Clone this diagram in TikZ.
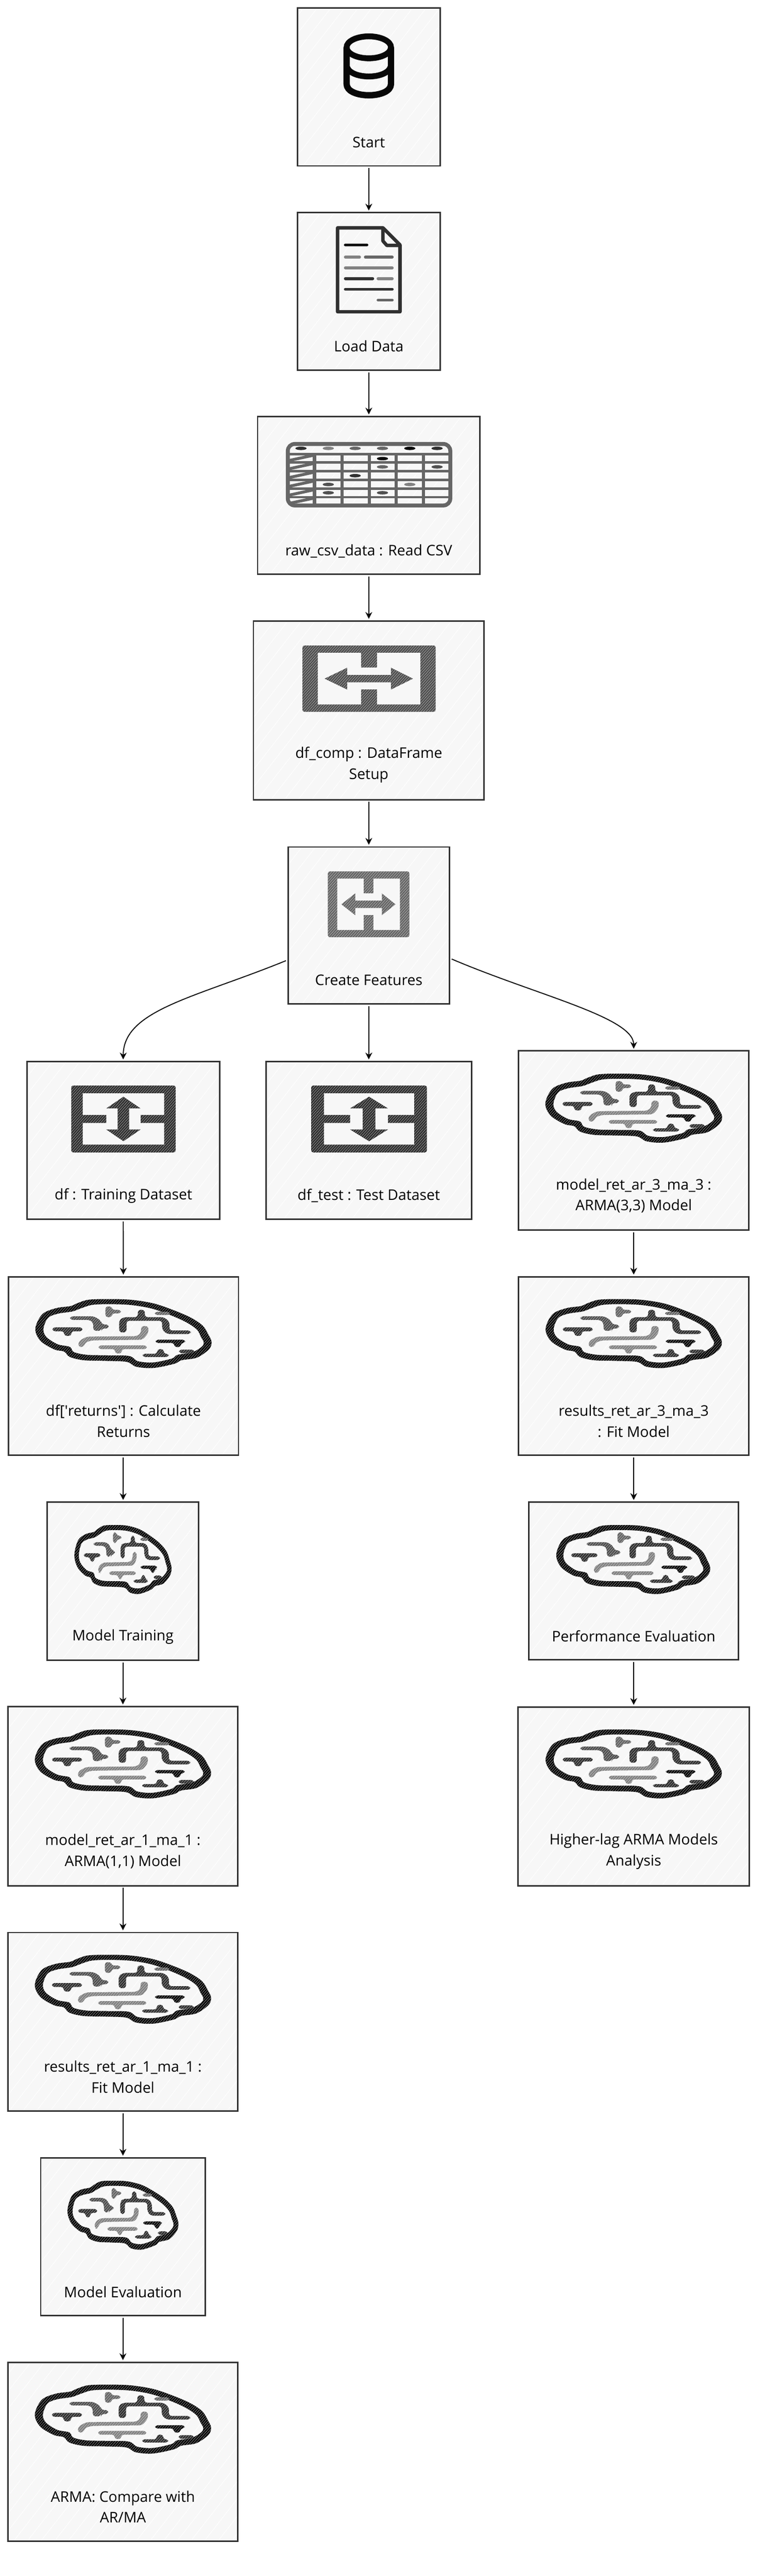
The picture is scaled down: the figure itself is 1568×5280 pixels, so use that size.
\documentclass[tikz,border=0pt]{standalone}
\usepackage{fontspec}
\setmainfont{Open Sans}
\usetikzlibrary{arrows.meta,patterns.meta}

\definecolor{boxcol}{HTML}{F7F7F7}
\definecolor{edgecol}{HTML}{333333}
\definecolor{inkA}{HTML}{080808}
\definecolor{inkB}{HTML}{303030}
\definecolor{inkC}{HTML}{505050}
\definecolor{inkD}{HTML}{666666}
\definecolor{inkE}{HTML}{828282}

\tikzset{
  x=0.5pt,y=-0.5pt,
  box/.style={draw=edgecol,line width=1.5pt,inner sep=0pt,preaction={fill=boxcol},
    preaction={pattern={Lines[angle=52,distance=11pt,line width=0.5pt]},pattern color=white}},
  lbl/.style={font=\fontsize{15}{21.5}\selectfont,align=center,text=black,inner sep=0pt},
  flow/.style={draw=inkA,line width=1pt,-{Stealth[length=7pt,width=7pt]},shorten >=1.5pt,shorten <=1.5pt},
  ink/.style={fill=#1,postaction={pattern={Lines[angle=48,distance=2pt,line width=0.15pt]},pattern color=white}},
  bar/.style={draw=#1,line width=3pt,line cap=round},
  pics/brain/.style={code={
    \begin{scope}[shift={(-716,-216)}]
      \path[ink=inkA,even odd rule]
        plot[smooth cycle,tension=0.55] coordinates{(172,185)(215,95)(300,58)(390,45)(430,28)(500,6)(620,2)(760,6)(900,28)(1020,68)(1130,115)(1205,165)(1240,220)(1260,265)(1245,310)(1170,362)(1075,378)(1030,400)(900,426)(795,418)(735,388)(600,382)(470,378)(385,358)(350,325)(290,312)(205,260)}
        plot[smooth cycle,tension=0.55] coordinates{(222,185)(250,118)(310,92)(400,78)(450,60)(520,38)(620,33)(760,38)(890,60)(1005,100)(1105,145)(1170,190)(1195,235)(1212,268)(1200,295)(1140,330)(1050,345)(1015,368)(900,392)(805,384)(750,352)(600,348)(490,345)(410,328)(385,296)(310,280)(240,235)};
      \path[ink=inkB,rounded corners=2.5pt] (278,176)--(463,176)--(463,200)--(395,200)--(395,228)--(350,228)--(350,200)--(278,200)--cycle;
      \path[ink=inkD,rounded corners=2.5pt] (605,47)--(645,47)--(645,68)--(700,68)--(700,90)--(645,90)--(645,113)--(605,113)--cycle;
      \path[ink=inkC,rounded corners=3pt] (387,108)--(535,108)--(578,135)--(580,158)--(625,158)--(625,183)--(580,183)--(580,197)--(530,197)--(530,148)--(510,130)--(387,130)--cycle;
      \path[ink=inkB,rounded corners=3pt] (690,207)--(690,130)--(720,113)--(805,113)--(805,68)--(848,68)--(848,113)--(965,113)--(1000,140)--(1000,195)--(1132,195)--(1132,217)--(985,217)--(955,190)--(955,135)--(735,135)--(735,207)--cycle;
      \path[ink=inkE,rounded corners=3pt] (870,168)--(870,210)--(835,252)--(520,256)--(478,270)--(472,298)--(437,296)--(440,260)--(490,233)--(800,230)--(825,210)--(825,168)--cycle;
      \path[ink=inkE,rounded corners=2.5pt] (563,287)--(860,287)--(860,310)--(705,310)--(705,337)--(665,337)--(665,310)--(563,310)--cycle;
      \path[ink=inkA,rounded corners=2.5pt] (915,252)--(1097,252)--(1097,272)--(1070,272)--(1070,297)--(1030,297)--(1030,272)--(915,272)--cycle;
      \path[ink=inkB,rounded corners=2.5pt] (835,338)--(925,338)--(925,310)--(965,310)--(965,338)--(995,338)--(995,358)--(835,358)--cycle;
      \path[ink=inkB,rounded corners=2.5pt] (1060,313)--(1153,313)--(1153,335)--(1060,335)--cycle;
      \path[ink=inkD,rounded corners=2.5pt] (910,80)--(1002,80)--(1002,100)--(910,100)--cycle;
    \end{scope}
  }},
  pics/swaph/.style={code={
    \path[ink=#1,even odd rule,rounded corners=2pt] (0,0)--(1,0)--(1,1)--(0,1)--cycle;
    \path[fill=boxcol,even odd rule] (0.115,0.11)--(0.44,0.11)--(0.44,0.333)--(0.56,0.333)--(0.56,0.11)--(0.885,0.11)--(0.885,0.89)--(0.56,0.89)--(0.56,0.663)--(0.44,0.663)--(0.44,0.89)--(0.115,0.89)--cycle;
    \path[ink=#1] (0.166,0.5)--(0.336,0.335)--(0.336,0.445)--(0.664,0.445)--(0.664,0.335)--(0.83,0.5)--(0.664,0.665)--(0.664,0.555)--(0.336,0.555)--(0.336,0.665)--cycle;
  }},
  pics/swapv/.style={code={
    \path[ink=#1,even odd rule,rounded corners=2pt] (0,0)--(1,0)--(1,1)--(0,1)--cycle;
    \path[fill=boxcol,even odd rule] (0.11,0.117)--(0.89,0.117)--(0.89,0.44)--(0.664,0.44)--(0.664,0.56)--(0.89,0.56)--(0.89,0.883)--(0.11,0.883)--(0.11,0.56)--(0.336,0.56)--(0.336,0.44)--(0.11,0.44)--cycle;
    \path[ink=#1] (0.5,0.167)--(0.664,0.342)--(0.555,0.342)--(0.555,0.658)--(0.664,0.658)--(0.5,0.833)--(0.336,0.658)--(0.445,0.658)--(0.445,0.342)--(0.336,0.342)--cycle;
  }},
}

\begin{document}
\begin{tikzpicture}
  \useasboundingbox (0,0) rectangle (1568,5280);

  \node[box,minimum width=146pt,minimum height=162pt] (start) at (756,178) {};
  \node[box,minimum width=146pt,minimum height=161.5pt] (load) at (756,597.5) {};
  \node[box,minimum width=228pt,minimum height=161.5pt] (raw) at (756,1015.5) {};
  \node[box,minimum width=236.5pt,minimum height=183pt] (comp) at (756,1456) {};
  \node[box,minimum width=165.5pt,minimum height=161pt] (create) at (756,1897) {};
  \node[box,minimum width=197.5pt,minimum height=161.5pt] (train) at (252.5,2337.5) {};
  \node[box,minimum width=211pt,minimum height=161.5pt] (test) at (756,2337.5) {};
  \node[box,minimum width=236pt,minimum height=183.5pt] (modelb) at (1299,2337.5) {};
  \node[box,minimum width=236pt,minimum height=183pt] (returns) at (253,2800) {};
  \node[box,minimum width=236pt,minimum height=183pt] (resultsb) at (1299,2800) {};
  \node[box,minimum width=155.5pt,minimum height=162pt] (training) at (252,3241) {};
  \node[box,minimum width=215pt,minimum height=161.5pt] (perf) at (1299,3240.5) {};
  \node[box,minimum width=235.5pt,minimum height=183.5pt] (modela) at (252,3681.5) {};
  \node[box,minimum width=237pt,minimum height=183pt] (higher) at (1299,3682) {};
  \node[box,minimum width=235.5pt,minimum height=183pt] (resultsa) at (252,4144) {};
  \node[box,minimum width=168.5pt,minimum height=161.5pt] (eval) at (252,4584.5) {};
  \node[box,minimum width=235.5pt,minimum height=183.5pt] (arma) at (252,5025.5) {};

  \draw[flow] (start)--(load);
  \draw[flow] (load)--(raw);
  \draw[flow] (raw)--(comp);
  \draw[flow] (comp)--(create);
  \draw[flow] (create.203) .. controls (400,2045) and (253,2070) .. (train.north);
  \draw[flow] (create)--(test);
  \draw[flow] (create.338) .. controls (1100,2040) and (1299,2085) .. (modelb.north);
  \draw[flow] (train)--(returns);
  \draw[flow] (returns)--(training);
  \draw[flow] (training)--(modela);
  \draw[flow] (modela)--(resultsa);
  \draw[flow] (resultsa)--(eval);
  \draw[flow] (eval)--(arma);
  \draw[flow] (modelb)--(resultsb);
  \draw[flow] (resultsb)--(perf);
  \draw[flow] (perf)--(higher);

  \draw[inkA,line width=6pt] (756,97) ellipse [x radius=45.5,y radius=22.5];
  \draw[inkA,line width=6.5pt,line join=round] (710.5,97)--(710.5,172) .. controls (710.5,203) and (801.5,203) .. (801.5,172)--(801.5,97);
  \draw[inkA,line width=6pt] (710.5,132) .. controls (710.5,165) and (801.5,165) .. (801.5,132);

  \draw[inkB,line width=3.5pt,line join=round] (692,467)--(785,467)--(820,502)--(820,639)--(692,639)--cycle;
  \draw[inkB,line width=3.5pt,line join=round] (785,467)--(785,494)--(793,503)--(820,503);
  \draw[bar=inkA] (708,502)--(752,502);
  \draw[bar=inkE] (708,527)--(737,527);
  \draw[bar=inkD] (749,527)--(804,527);
  \draw[bar=inkE] (708,549)--(804,549);
  \draw[bar=inkB] (708,571)--(764,571);
  \draw[bar=inkE] (775,571)--(804,571);
  \draw[bar=inkB] (708,593)--(804,593);
  \draw[bar=inkD] (775,615)--(804,615);

  \draw[inkD,line width=4pt,rounded corners=7pt] (590,910) rectangle (923,1036);
  \foreach \xx in {645,701,757,812,868} \draw[inkD,line width=3.5pt] (\xx,931)--(\xx,1036);
  \foreach \yy in {931,948,966,984,1002,1019} \draw[inkD,line width=2.6pt] (590,\yy)--(923,\yy);
  \foreach \yy in {931,948,966,984,1002,1019} \draw[inkD,line width=3pt] (592,\yy+13)--(643,\yy+2);
  \foreach \xx/\yy/\col in {617/919/inkB,673/919/inkE,728/919/inkD,784/919/inkD,840/919/inkA,896/919/inkB,784/940/inkA,784/957/inkD,896/957/inkC,728/975/inkB,673/993/inkC,840/993/inkE,673/1010/inkC,784/1010/inkC}
    \fill[\col] (\xx,\yy) ellipse [x radius=11.5,y radius=3.5];

  \pic[xscale=273,yscale=136] (swapa) at (620,1323) {swaph=inkC};
  \pic[xscale=167,yscale=135] (swapb) at (672,1786) {swaph=inkD};
  \pic[xscale=214,yscale=137] (swapc) at (146,2225) {swapv=inkB};
  \pic[xscale=237,yscale=137] (swapd) at (638,2225) {swapv=inkB};

  \pic[xscale=0.333,yscale=0.333] (brainb) at (1299,2272) {brain};
  \pic[xscale=0.332,yscale=0.333] (brainc) at (253,2734) {brain};
  \pic[xscale=0.332,yscale=0.333] (braind) at (1299,2734) {brain};
  \pic[xscale=0.183,yscale=0.333] (braine) at (252,3197) {brain};
  \pic[xscale=0.290,yscale=0.333] (brainf) at (1298,3197) {brain};
  \pic[xscale=0.332,yscale=0.333] (braing) at (252,3616) {brain};
  \pic[xscale=0.332,yscale=0.333] (brainh) at (1299,3616) {brain};
  \pic[xscale=0.332,yscale=0.333] (braini) at (252,4078) {brain};
  \pic[xscale=0.209,yscale=0.333] (brainj) at (252,4541) {brain};
  \pic[xscale=0.332,yscale=0.333] (braink) at (252,4959) {brain};

  \node[lbl] (startlabel) at (756,292) {Start};
  \node[lbl] (loadlabel) at (756,709) {Load Data};
  \node[lbl] (rawlabel) at (756,1130) {raw\_csv\_data : Read CSV};
  \node[lbl] (complabel) at (756,1568) {df\_comp : DataFrame\\Setup};
  \node[lbl] (createlabel) at (756,2009) {Create Features};
  \node[lbl] (trainlabel) at (253,2451) {df : Training Dataset};
  \node[lbl] (testlabel) at (756,2451) {df\_test : Test Dataset};
  \node[lbl] (modelblabel) at (1299,2451) {model\_ret\_ar\_3\_ma\_3 :\\ARMA(3,3) Model};
  \node[lbl] (returnslabel) at (253,2913) {df[\textquotesingle returns\textquotesingle] : Calculate\\Returns};
  \node[lbl] (resultsblabel) at (1299,2913) {results\_ret\_ar\_3\_ma\_3\\: Fit Model};
  \node[lbl] (traininglabel) at (252,3355) {Model Training};
  \node[lbl] (perflabel) at (1299,3354) {Performance Evaluation};
  \node[lbl] (modelalabel) at (252,3795) {model\_ret\_ar\_1\_ma\_1 :\\ARMA(1,1) Model};
  \node[lbl] (higherlabel) at (1299,3795) {Higher-lag ARMA Models\\Analysis};
  \node[lbl] (resultsalabel) at (252,4257) {results\_ret\_ar\_1\_ma\_1 :\\Fit Model};
  \node[lbl] (evallabel) at (252,4698) {Model Evaluation};
  \node[lbl] (armalabel) at (252,5138) {ARMA: Compare with\\AR/MA};
\end{tikzpicture}
\end{document}
